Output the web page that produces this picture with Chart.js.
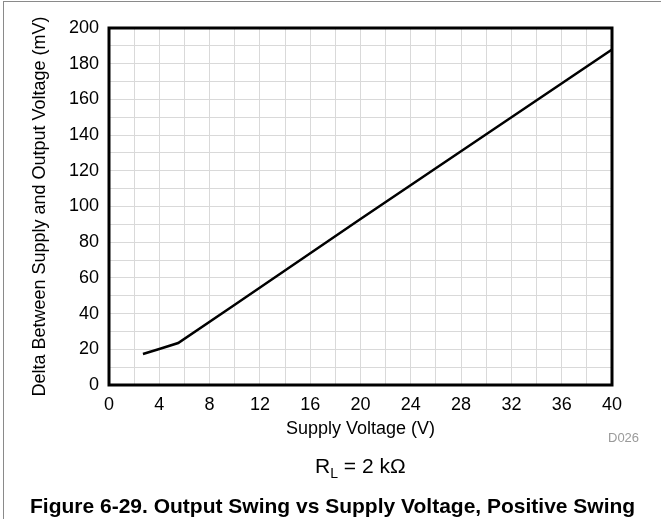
<!DOCTYPE html>
<html>
<head>
<meta charset="utf-8">
<script src="https://cdn.jsdelivr.net/npm/chart.js@4.4.1/dist/chart.umd.min.js"></script>
<style>
  body { margin: 0; background: #fff; }
  #wrap { position: relative; width: 661px; height: 519px; overflow: hidden; font-family: "Liberation Sans", Arial, sans-serif; }
  #myChart { position: absolute; left: 0; top: 0; }
  .edgeL { position: absolute; left: 3px; top: 1px; width: 1px; height: 518px; background: #8a8a8a; }
  .edgeT { position: absolute; left: 3px; top: 1px; width: 658px; height: 1px; background: #8a8a8a; }
  .note { position: absolute; white-space: nowrap; line-height: 1; color: #000; }
</style>
</head>
<body>
<div id="wrap">
  <canvas id="myChart" width="661" height="519"></canvas>
  <div class="edgeL"></div>
  <div class="edgeT"></div>
  <div class="note" style="left:608px; top:431px; font-size:13px; color:#9a9a9a;">D026</div>
  <div class="note" style="left:315px; top:455px; font-size:21px;">R<sub style="font-size:14px; vertical-align:-5px;">L</sub> = 2 kΩ</div>
  <div class="note" style="left:30px; top:495px; font-size:21px; font-weight:bold;">Figure 6-29. Output Swing vs Supply Voltage, Positive Swing</div>
</div>
<script>
// values
const supplyVoltage = [2.7, 4, 5.5, 10, 20, 30, 40];
const deltaMv = [17.4, 20.2, 23.5, 45, 93, 140.5, 188];

// labelled ticks (grid is finer: 2 V / 10 mV)
const xTickLabels = [0, 4, 8, 12, 16, 20, 24, 28, 32, 36, 40];
const yTickLabels = [0, 20, 40, 60, 80, 100, 120, 140, 160, 180, 200];

const points = supplyVoltage.map((v, i) => ({x: v, y: deltaMv[i]}));

// thick black box round the plot area
const frame = {
  id: 'frame',
  afterDatasetsDraw(chart) {
    const {ctx, chartArea: a} = chart;
    ctx.save();
    ctx.strokeStyle = '#000';
    ctx.lineWidth = 3;
    ctx.strokeRect(a.left, a.top, a.right - a.left, a.bottom - a.top);
    ctx.restore();
  }
};

const font = {family: '"Liberation Sans", Arial, sans-serif', size: 18, lineHeight: 1.2};

const config = {
  type: 'line',
  data: {
    datasets: [{
      data: points,
      borderColor: '#000',
      borderWidth: 2.5,
      pointRadius: 0,
      tension: 0,
      fill: false
    }]
  },
  options: {
    responsive: false,
    animation: false,
    events: [],
    layout: {padding: {left: 0, top: 28, right: 49, bottom: 79}},
    plugins: {legend: {display: false}, tooltip: {enabled: false}},
    scales: {
      x: {
        type: 'linear',
        min: 0,
        max: 40,
        border: {display: false},
        grid: {color: '#d9d9d9', lineWidth: 1, drawTicks: false},
        ticks: {
          stepSize: 2,
          padding: 9,
          color: '#000',
          font: font,
          maxRotation: 0,
          autoSkip: false,
          callback: v => xTickLabels.includes(v) ? String(v) : ''
        },
        title: {display: true, text: 'Supply Voltage (V)', color: '#000', font: font, padding: {top: 0, bottom: 0}},
        afterFit(scale) { scale.height = 55; }
      },
      y: {
        type: 'linear',
        min: 0,
        max: 200,
        border: {display: false},
        grid: {color: '#d9d9d9', lineWidth: 1, drawTicks: false},
        ticks: {
          stepSize: 10,
          padding: 10,
          color: '#000',
          font: font,
          autoSkip: false,
          callback: v => yTickLabels.includes(v) ? String(v) : ''
        },
        title: {display: true, text: 'Delta Between Supply and Output Voltage (mV)', color: '#000', font: font, padding: {top: 29, bottom: 0}},
        afterFit(scale) { scale.width = 109; }
      }
    }
  },
  plugins: [frame]
};

const ctx = document.getElementById('myChart');
const myChart = new Chart(ctx, config);
</script>
</body>
</html>
